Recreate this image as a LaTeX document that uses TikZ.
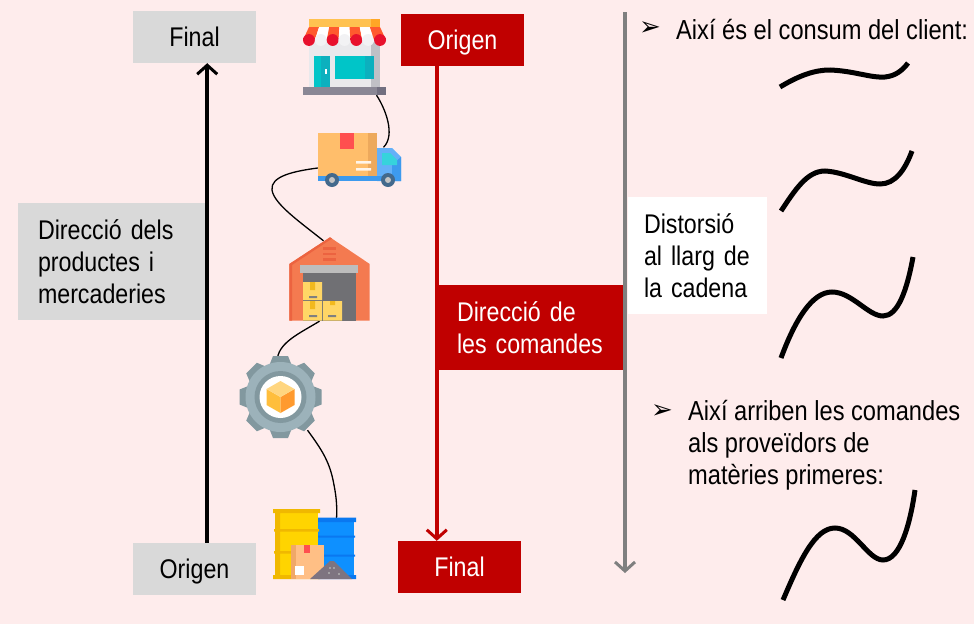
\documentclass[tikz,border=0pt]{standalone}
\usepackage{fontspec}
\usepackage{tikz}
\usetikzlibrary{arrows.meta}
\setmainfont[FakeStretch=0.86]{Liberation Sans}
\newfontfamily\symfont{DejaVu Sans}
\definecolor{bgpink}{HTML}{FEECEC}
\definecolor{boxgray}{HTML}{D9D9D9}
\definecolor{boxred}{HTML}{C00000}
\definecolor{linegray}{HTML}{7F7F7F}
\definecolor{gearout}{HTML}{82989F}
\definecolor{gearin}{HTML}{9CB2BA}
\definecolor{awnorange}{HTML}{FF5A2E}
\definecolor{awnred}{HTML}{E8112D}
\definecolor{awnyellow}{HTML}{FFC250}
\definecolor{awndark}{HTML}{FFA726}
\definecolor{wallgray}{HTML}{E9E9EC}
\definecolor{walldark}{HTML}{C0C0C6}
\definecolor{tealA}{HTML}{00C5C8}
\definecolor{tealB}{HTML}{0CB0BE}
\definecolor{baseA}{HTML}{8A8795}
\definecolor{baseB}{HTML}{726F80}
\definecolor{cardA}{HTML}{FFBE6B}
\definecolor{cardB}{HTML}{EDA95C}
\definecolor{tape}{HTML}{FF4F4F}
\definecolor{cabA}{HTML}{64B0F8}
\definecolor{cabB}{HTML}{3D9AEE}
\definecolor{cabwin}{HTML}{36D3DC}
\definecolor{wheel}{HTML}{43698C}
\definecolor{hubgray}{HTML}{C4C4C4}
\definecolor{storeA}{HTML}{F47A50}
\definecolor{storeB}{HTML}{EC6340}
\definecolor{shutter}{HTML}{BDBDBD}
\definecolor{storein}{HTML}{707074}
\definecolor{pack}{HTML}{FFD666}
\definecolor{packtape}{HTML}{F2B91E}
\definecolor{cubeA}{HTML}{FFBE3C}
\definecolor{cubeB}{HTML}{FF9A2E}
\definecolor{cubeC}{HTML}{FFD680}
\definecolor{drumY}{HTML}{FFD400}
\definecolor{drumYd}{HTML}{F0B800}
\definecolor{drumB}{HTML}{0E90FF}
\definecolor{drumBd}{HTML}{0A78F0}
\definecolor{matbox}{HTML}{FFBF85}
\definecolor{matdark}{HTML}{F0A868}
\definecolor{pile}{HTML}{7E7480}
\tikzset{
    lbl/.style={font=\fontsize{27.5}{32}\selectfont, align=left, inner sep=0pt, anchor=west},
    graybox/.style={rectangle, fill=boxgray, inner sep=0pt, text=black, font=\fontsize{27}{32}\selectfont},
    redbox/.style={rectangle, fill=boxred, inner sep=0pt, text=white, font=\fontsize{27}{32}\selectfont},
    oneline/.style={minimum width=123pt, minimum height=52pt, text height=22pt, text depth=4pt},
    flow/.style={line width=3.6pt, -{Straight Barb[length=9pt,width=20pt,line width=3pt]}},
    wire/.style={line width=1.3pt, black},
    squig/.style={line width=5pt, black},
    iconbox/.style={rectangle, inner sep=0pt},
}
\begin{document}
\begin{tikzpicture}[x=1pt, y=-1pt]
        \useasboundingbox[fill=bgpink] (0,0) rectangle (974,624);

        % boxes
        \node[graybox, oneline] (finalp) at (194.5,37) {Final};
        \node[graybox, oneline] (origenp) at (194.5,569) {Origen};
        \node[redbox, oneline] (origenc) at (462.5,40) {Origen};
        \node[redbox, oneline] (finalc) at (459.5,567) {Final};
        \node[graybox, minimum width=189pt, minimum height=117pt, align=left, text width=149pt] (dirp) at (112.5,261.5) {Direcció dels\\productes i\\mercaderies};
        \node[redbox, minimum width=186pt, minimum height=85pt, align=left, text width=146pt] (dirc) at (530,327.5) {Direcció de\\les comandes};

        % arrows
        \draw[flow] (dirp.east |- origenp.north) -- (dirp.east |- finalp.south);
        \draw[flow, boxred] (dirc.west |- origenc.south) -- (dirc.west |- finalc.north);
        \coordinate (disttop) at (625,12);
        \coordinate (distbot) at (625,573);
        \draw[flow, linegray] (disttop) -- (distbot);
        \node[rectangle, fill=white, inner sep=0pt, minimum width=139pt, minimum height=117pt, align=left, text width=107pt, font=\fontsize{27}{32}\selectfont] (dist) at (697.5,255.5) {Distorsió\\al llarg de\\la cadena};

        % icon places
        \node[iconbox, minimum width=83pt, minimum height=76pt] (shop) at (344.5,57) {};
        \node[iconbox, minimum width=83pt, minimum height=55pt] (truck) at (359.5,160) {};
        \node[iconbox, minimum width=80pt, minimum height=84pt] (store) at (329.5,279) {};
        \node[iconbox, minimum width=82pt, minimum height=82pt] (gear) at (280.5,397) {};
        \node[iconbox, minimum width=83pt, minimum height=70pt] (raw) at (314.5,544) {};

        % chain
        \draw[wire] ([xshift=32pt]shop.south) .. controls (385,108) and (396,135) .. ([xshift=24pt,yshift=-15pt]truck.north);
        \draw[wire] ([yshift=-8pt]truck.west) .. controls (295,171) and (270,176) .. (272,190)
            .. controls (274,204) and (300,222) .. ([xshift=-6pt,yshift=-4pt]store.north);
        \draw[wire] ([xshift=-10pt]store.south) .. controls (300,333) and (280,342) .. ([yshift=-2pt,xshift=-3pt]gear.north);
        \draw[wire] ([xshift=27pt,yshift=8pt]gear.south) .. controls (322,450) and (330,462) .. (334,485)
            .. controls (337,500) and (337,510) .. ([xshift=22pt,yshift=-10pt]raw.north);

        % shop
        \fill[wallgray] (309,36) rectangle (380,88);
        \fill[walldark] (371,38) rectangle (380,88);
        \fill[tealA] (314,56) rectangle (330,87);
        \fill[tealB] (321,56) rectangle (330,87);
        \fill[tealA] (335,56) rectangle (374,79);
        \fill[tealB] (365,56) rectangle (374,79);
        \fill[white] (325,69) rectangle (327,74);
        \fill[baseA] (303,87) rectangle (386,95);
        \fill[baseB] (377,87) rectangle (386,95);
        \fill[awnyellow] (309,19) rectangle (380,27);
        \fill[awndark] (371,19) rectangle (380,27);
        \foreach \i in {0,1,...,6} {
            \pgfmathsetmacro{\topx}{309+\i*71/7}
            \pgfmathsetmacro{\botx}{303+\i*83/7}
            \pgfmathtruncatemacro{\odd}{mod(\i,2)}
            \ifnum\odd=0
                \fill[awnorange] (\topx,27) -- (\topx+71/7,27) -- (\botx+83/7,40) -- (\botx,40) -- cycle;
                \fill[awnred] (\botx+5.93,40) circle (5.93);
                \fill[awnred] (\botx,38) rectangle (\botx+83/7,40);
            \else
                \fill[white] (\topx,27) -- (\topx+71/7,27) -- (\botx+83/7,40) -- (\botx,40) -- cycle;
                \fill[wallgray!60!white] (\botx+5.93,40) circle (5.93);
                \fill[wallgray!60!white] (\botx,38) rectangle (\botx+83/7,40);
            \fi
        }

        % truck
        \fill[cabA] (377,148) -- (392,148) -- (401,157) -- (401,181) -- (377,181) -- cycle;
        \fill[cabB] (392,165) -- (401,157) -- (401,181) -- (392,181) -- cycle;
        \fill[cabwin] (382,153) -- (390,153) -- (397,160) -- (397,165) -- (382,165) -- cycle;
        \fill[cardA] (318,133) rectangle (368,176);
        \fill[cardB] (368,133) rectangle (377,176);
        \fill[tape] (340,133) rectangle (354,149);
        \fill[white!85!cardA] (356,161) rectangle (371,163.5) (356,168) rectangle (371,170.5);
        \fill[cabB] (318,176) rectangle (401,181);
        \foreach \wx in {332,388} {
            \fill[wheel] (\wx,180) circle (7);
            \fill[hubgray] (\wx,180) circle (3);
        }

        % warehouse
        \fill[storeA] (289.3,264) -- (330,237.3) -- (369.7,264) -- (369.7,320.7) -- (289.3,320.7) -- cycle;
        \fill[storeB] (289.3,264) -- (330,237.3) -- (332,238.6) -- (292,265) -- (292,320.7) -- (289.3,320.7) -- cycle;
        \foreach \vy in {248.5,254,259.5}
            \fill[storeB] (323,\vy-1.3) rectangle (336,\vy+1.3);
        \fill[storein] (303,270) rectangle (356,320.7);
        \fill[shutter] (300,265) rectangle (358,273);
        \fill[pack] (303,282) rectangle (322,300) (303,301) rectangle (322,320.7) (323,301) rectangle (342,320.7);
        \fill[packtape] (310,282) rectangle (315,290) (310,301) rectangle (315,309) (330,301) rectangle (335,305);
        \fill[gray] (309,296) rectangle (317,298) (309,315) rectangle (317,317) (328,315) rectangle (336,317);

        % gear
        \foreach \ang in {0,45,...,315}
            \fill[gearout, rotate around={\ang:(280.5,397)}] (273,356) -- (288,356) -- (292,366) -- (269,366) -- cycle;
        \fill[gearin] (280.5,397) circle (35);
        \fill[gearout] (280.5,397) circle (26);
        \fill[white] (280.5,397) circle (21);
        \fill[cubeA] (266.5,389) -- (280.5,397) -- (280.5,413) -- (266.5,405) -- cycle;
        \fill[cubeB] (294.5,389) -- (280.5,397) -- (280.5,413) -- (294.5,405) -- cycle;
        \fill[cubeC] (266.5,389) -- (280.5,381) -- (294.5,389) -- (280.5,397) -- cycle;

        % barrels and material
        \fill[drumB] (318,518) rectangle (354,579);
        \fill[drumBd] (318,517.5) rectangle (356,522) (318,575) rectangle (356,579) (318,535.5) rectangle (355,537.5) (318,554.5) rectangle (355,556.5);
        \fill[drumY] (275,509) rectangle (318,579);
        \fill[drumYd] (273,509) rectangle (320,513) (273,575) rectangle (320,579) (274,529) rectangle (319,531.5) (274,551) rectangle (319,553.5) (275,513) rectangle (280,575);
        \fill[matbox] (291,545) rectangle (324,579);
        \fill[matdark] (291,545) rectangle (296,579);
        \fill[tape] (304,545) rectangle (310,553);
        \fill[white] (295,566) rectangle (304,575);
        \fill[pile] (310,579) -- (330,561) -- (334,561) -- (352,579) -- cycle;
        \foreach \dx/\dy in {330/568,334/568,339/574,329/573}
            \fill[gray!60] (\dx,\dy) circle (1.2);

        % right side
        \node[lbl, font=\fontsize{26}{28}\selectfont\symfont] (bull1) at (639,29) {➢};
        \node[lbl] (txt1) at (676,29.5) {Així és el consum del client:};
        \node[lbl, font=\fontsize{26}{28}\selectfont\symfont] (bull2) at (651,412) {➢};
        \node[lbl] (txt2) at (688,445) {Així arriben les comandes\\als proveïdors de\\matèries primeres:};

        \draw[squig] (780,87) .. controls (800,75) and (815,70) .. (830,70)
            .. controls (855,71) and (870,78) .. (885,77) .. controls (895,76) and (902,71) .. (908,63);
        \draw[squig] (781,211) .. controls (795,190) and (807,171) .. (825,171)
            .. controls (845,172) and (865,184) .. (880,184) .. controls (895,184) and (905,170) .. (912,151);
        \draw[squig] (781,358) .. controls (795,320) and (812,292) .. (832,292)
            .. controls (852,292) and (868,316) .. (883,316) .. controls (898,316) and (907,290) .. (913,257);
        \draw[squig] (783,600) .. controls (800,560) and (815,528) .. (835,528)
            .. controls (855,528) and (868,560) .. (883,560) .. controls (900,560) and (910,525) .. (915,490);
    \end{tikzpicture}
\end{document}
